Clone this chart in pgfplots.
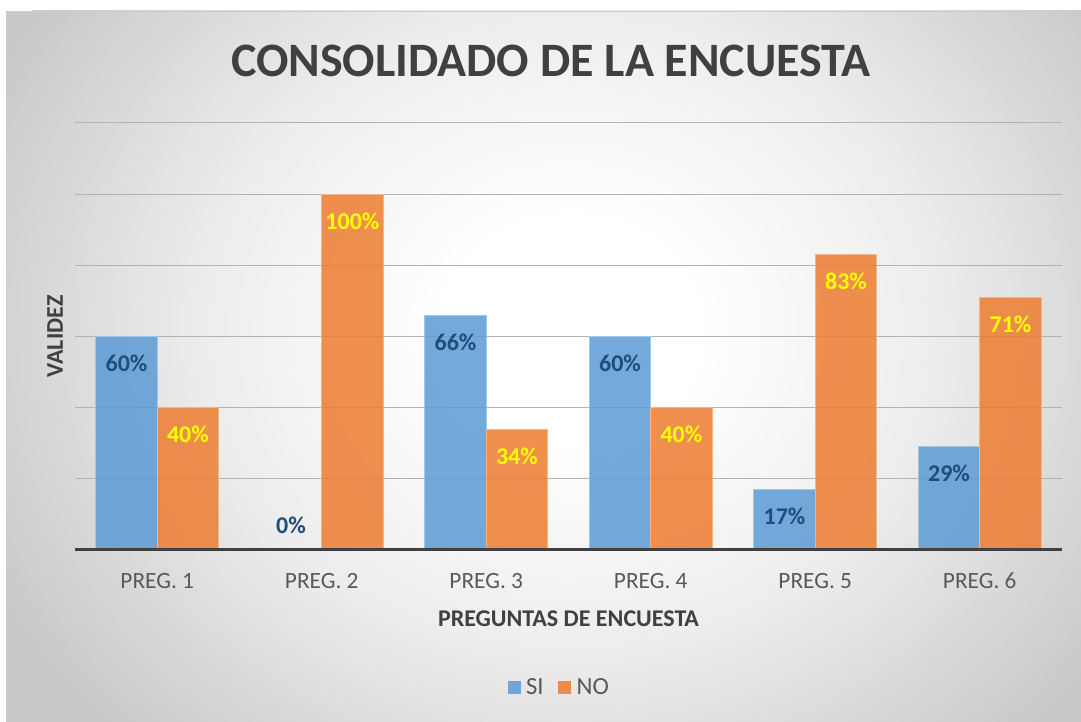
\documentclass[border=0pt]{standalone}
\usepackage{pgfplots}
\pgfplotsset{compat=1.18}
\usepackage{fontspec}
\setmainfont{Carlito}
\definecolor{siblue}{RGB}{91,155,213}
\definecolor{noorange}{RGB}{237,125,49}
\definecolor{siedge}{RGB}{160,198,232}
\definecolor{noedge}{RGB}{245,180,135}
\definecolor{sitext}{RGB}{31,78,121}
\definecolor{notext}{RGB}{255,255,0}
\definecolor{titlegray}{RGB}{64,64,64}
\definecolor{tickgray}{RGB}{89,89,89}
\definecolor{gridgray}{RGB}{178,178,178}
\definecolor{bgmid}{RGB}{237,237,237}
\definecolor{bgedge}{RGB}{200,200,200}
\pgfdeclareradialshading{bgshade}{\pgfpoint{0bp}{0bp}}{color(0bp)=(white); color(5bp)=(white); color(14bp)=(bgmid); color(25bp)=(bgedge); color(50bp)=(bgedge)}
\begin{document}
\begin{tikzpicture}[x=0.75pt,y=0.75pt]
\useasboundingbox (0,0) rectangle (1081,721);
\begin{scope}
\clip (6,-6) rectangle (1090,710);
\fill[bgedge] (6,-6) rectangle (1090,710);
\shade[shading=bgshade] (570,390) ellipse (650 and 570);
\end{scope}
\draw[gray!40, line width=0.5pt] (6,-6) -- (6,710) -- (1090,710);
\begin{axis}[
  at={(56.25pt,128.25pt)}, anchor=south west,
  scale only axis, width=740.25pt, height=320.25pt,
  xmin=-0.5, xmax=5.5, ymin=0, ymax=120,
  ybar=0pt, bar width=46.1pt,
  xtick={0,1,2,3,4,5},
  xticklabels={PREG. 1,PREG. 2,PREG. 3,PREG. 4,PREG. 5,PREG. 6},
  xticklabel style={anchor=base, yshift=-28.5pt, font=\fontsize{17.5}{20}\selectfont, text=tickgray},
  ytick={20,40,...,120}, yticklabels={},
  ymajorgrids, grid style={gridgray, line width=0.75pt},
  major tick length=0pt,
  axis line style={draw=none},
  title={CONSOLIDADO DE LA ENCUESTA},
  title style={at={(axis description cs:0.4823,1.089)}, anchor=base, font=\fontsize{36}{40}\selectfont\bfseries, text=titlegray},
  xlabel={PREGUNTAS DE ENCUESTA},
  xlabel style={at={(axis description cs:0.5,0)}, anchor=base, yshift=-57pt, font=\fontsize{18}{20}\selectfont\bfseries, text=titlegray},
  ylabel={VALIDEZ},
  ylabel style={at={(axis description cs:-0.0122,0.5)}, anchor=base, font=\fontsize{18}{20}\selectfont\bfseries, text=titlegray},
  /pgf/number format/assume math mode=true,
  nodes near coords={\pgfmathprintnumber{\pgfplotspointmeta}\%},
  visualization depends on={y \as \yv},
  every node near coord/.append style={anchor=center, text opacity=1, font=\fontsize{18}{20}\selectfont\bfseries, yshift={ifthenelse(\yv<0.5,18.75,-20.25)}},
  legend style={at={(0.491,-0.323)}, anchor=center, draw=none, fill=none, legend columns=2, font=\fontsize{18.5}{20}\selectfont, text=tickgray, /tikz/every odd column/.append style={column sep=2pt}, /tikz/every even column/.append style={column sep=9pt}},
  sqleg/.style={legend image code/.code={\fill[##1, draw=none] (0pt,-4.9pt) rectangle (9.75pt,4.9pt);}},
]
\addplot[fill=siblue, fill opacity=0.85, draw=siedge, line width=0.75pt, sqleg, every node near coord/.append style={text=sitext}]
  coordinates {(0,60) (1,0) (2,66) (3,60) (4,17) (5,29)};
\addplot[fill=noorange, fill opacity=0.85, draw=noedge, line width=0.75pt, sqleg, every node near coord/.append style={text=notext}]
  coordinates {(0,40) (1,100) (2,34) (3,40) (4,83) (5,71)};
\legend{SI,NO}
\draw[titlegray, line width=3pt] (rel axis cs:0,0) -- (rel axis cs:1,0);
\end{axis}
\end{tikzpicture}
\end{document}
